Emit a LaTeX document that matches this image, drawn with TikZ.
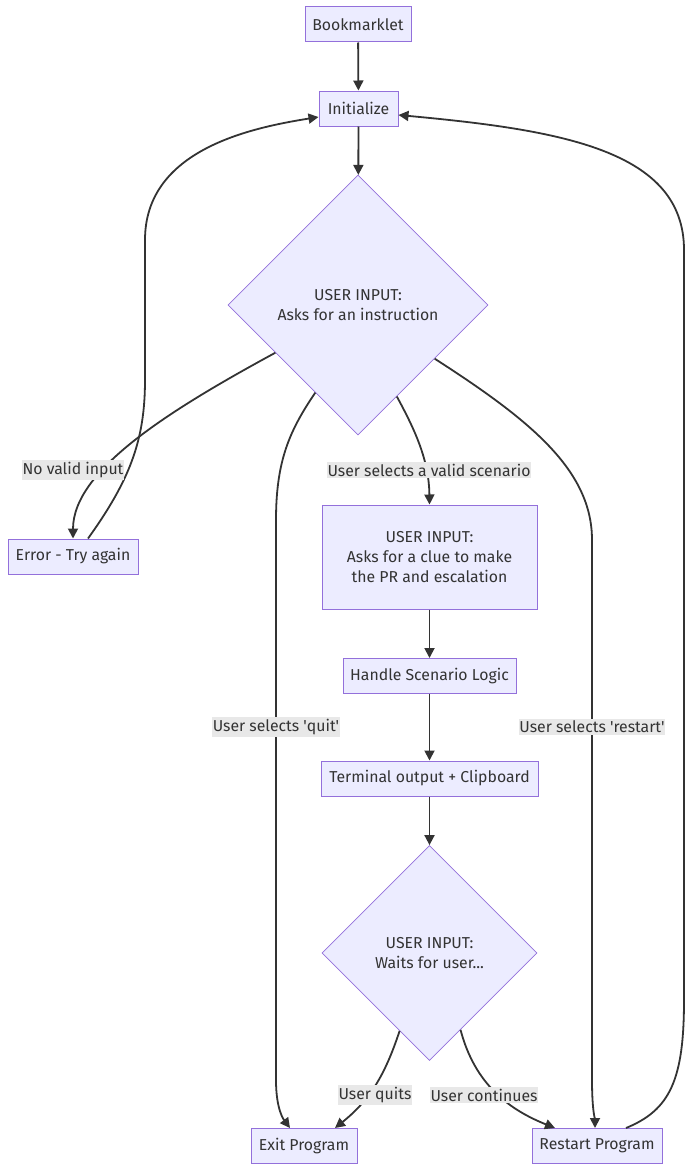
\documentclass[tikz,border=0pt]{standalone}
\usepackage{fontspec}
\setmainfont{Fira Sans}
\usepackage{tikz}
\usetikzlibrary{arrows.meta,shapes.geometric}
\definecolor{boxfill}{HTML}{ECECFF}
\definecolor{boxline}{HTML}{9370DB}
\definecolor{edge}{HTML}{333333}
\definecolor{lblfill}{HTML}{E8E8E8}

\begin{document}
\begin{tikzpicture}[x=1pt,y=-1pt,
	font=\fontsize{15.8}{20}\selectfont,text=edge,
	box/.style={draw=boxline,fill=boxfill,line width=1pt,minimum height=35pt,inner sep=0pt,align=center},
	choice/.style={diamond,draw=boxline,fill=boxfill,line width=0.8pt,inner sep=0pt,align=center},
	lbl/.style={fill=lblfill,inner xsep=0.5pt,inner ysep=2pt},
	flow/.style={draw=edge,line width=1.8pt,-{Triangle[length=10pt,width=10pt]}}]
	\useasboundingbox (0,0) rectangle (692,1172);
	\node[box,minimum width=106pt] (book) at (358,24.5) {Bookmarklet};
	\node[box,minimum width=79pt] (init) at (358.5,108.5) {Initialize};
	\node[choice,minimum width=260pt,minimum height=260pt] (d1) at (358,305) {USER INPUT:\\Asks for an instruction};
	\node[box,minimum width=130pt] (err) at (73,556.5) {Error - Try again};
	\node[box,minimum width=215pt,minimum height=104pt] (box2) at (429.5,557) {USER INPUT:\\Asks for a clue to make\\ the PR and escalation};
	\node[box,minimum width=173pt] (logic) at (429.5,676) {Handle Scenario Logic};
	\node[box,minimum width=217pt] (term) at (429.5,778.5) {Terminal output + Clipboard};
	\node[choice,minimum width=215pt,minimum height=215pt] (d2) at (429.5,953) {USER INPUT:\\Waits for user...};
	\node[box,minimum width=106pt] (exit) at (304,1146) {Exit Program};
	\node[box,minimum width=130pt] (rst) at (597,1146) {Restart Program};
	\foreach \a/\b in {book/init,init/d1,box2/logic,logic/term,term/d2}
		\draw[flow] (\a) -- (\b);
	\draw[flow] (d1.210) .. controls (170,410) and (73,470) .. (err.north);
	\draw[flow] ([xshift=15pt]err.north) .. controls (130,480) and (145,440) .. (145,380) -- (145,240) .. controls (145,150) and (250,128) .. ([yshift=-8.5pt]init.west);
	\draw[flow] (d1.244) .. controls (290,430) and (276,460) .. (276,520) -- (276,1080) .. controls (276,1110) and (284,1120) .. ([xshift=-14pt]exit.north);
	\draw[flow] (d1.293) .. controls (415,430) and (429,460) .. (box2.north);
	\draw[flow] (d1.325) .. controls (530,420) and (592,470) .. (592,540) -- (592,1080) .. controls (592,1110) and (595,1120) .. ([xshift=-2pt]rst.north);
	\draw[flow] (d2.249) .. controls (385,1075) and (370,1100) .. ([xshift=31pt]exit.north);
	\draw[flow] (d2.292) .. controls (475,1085) and (510,1110) .. ([xshift=-42pt]rst.north);
	\draw[flow] ([xshift=29pt]rst.north) .. controls (670,1110) and (684,1080) .. (684,1000) -- (684,250) .. controls (684,150) and (560,130) .. ([yshift=-6.5pt]init.east);
	\node[lbl] (nvalid) at (73,470) {No valid input};
	\node[lbl] (valid) at (429,470) {User selects a valid scenario};
	\node[lbl] (quit) at (276,727) {User selects \textquotesingle quit\textquotesingle};
	\node[lbl] (restart) at (592,727) {User selects \textquotesingle restart\textquotesingle};
	\node[lbl] (quits) at (375,1095) {User quits};
	\node[lbl] (cont) at (484,1095) {User continues};
\end{tikzpicture}
\end{document}
